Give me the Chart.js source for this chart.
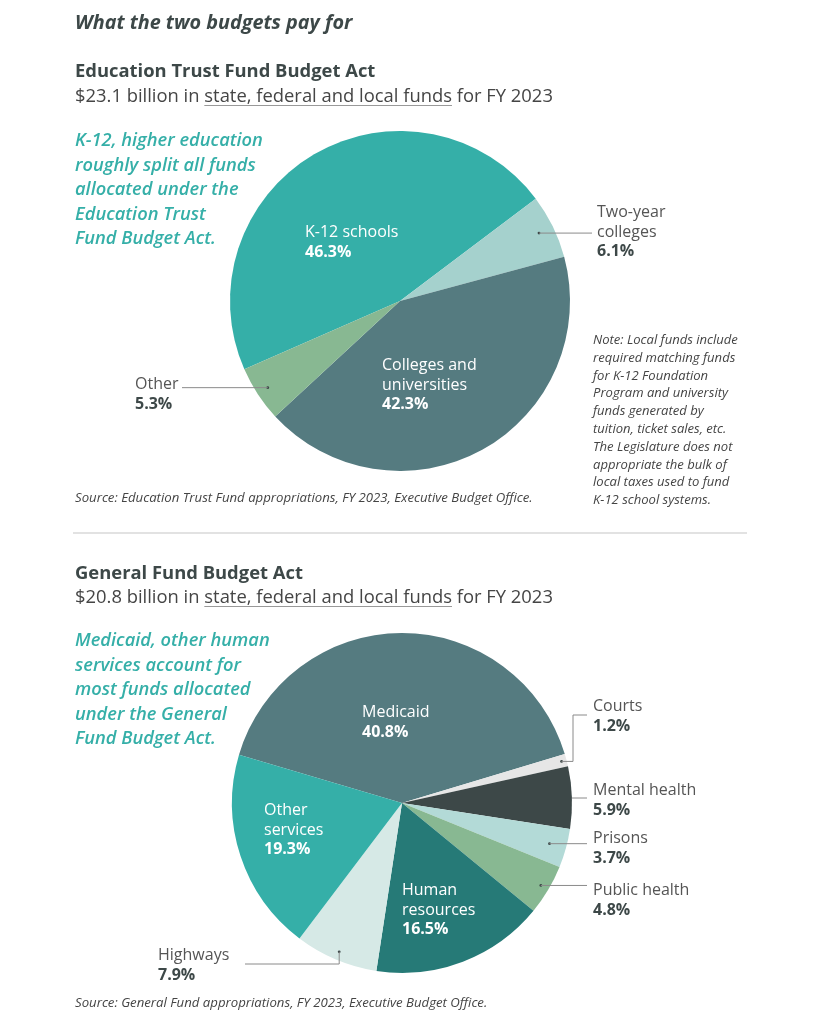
<!DOCTYPE html>
<html>
<head>
<meta charset="utf-8">
<script src="https://cdn.jsdelivr.net/npm/chart.js@4.4.1/dist/chart.umd.min.js"></script>
<style>
  html, body { margin: 0; padding: 0; background: #fff; }
  #page { position: relative; width: 813px; height: 1024px; overflow: hidden; font-family: "Open Sans", "Noto Sans", sans-serif; }
  canvas.pie { position: absolute; left: 0; top: 0; }
  .t { position: absolute; white-space: nowrap; }
  .title { left: 75px; top: 10px; font-size: 19.8px; line-height: 24px; font-weight: 700; font-style: italic; color: #3d4848; }
  .sect { left: 75px; font-size: 18.4px; line-height: 24px; font-weight: 700; color: #3d4848; }
  .sub { left: 75px; font-size: 18.4px; line-height: 24px; color: #454545; }
  .sub u { text-decoration-color: #999; text-underline-offset: 3px; }
  .ann { left: 75px; font-size: 18.3px; line-height: 24.5px; font-weight: 600; font-style: italic; color: #35afa8; }
  .note { left: 593px; top: 331px; font-size: 13.05px; line-height: 17.8px; font-style: italic; color: #444; }
  .src { left: 75px; font-size: 13.2px; line-height: 16px; font-style: italic; color: #444; }
  .lab { font-size: 16px; line-height: 19.5px; color: #555; }
  .lab b { color: #3d4848; }
  .lab.in { color: #fff; }
  .lab.in b { color: #fff; }
  .sep { position: absolute; left: 73px; top: 532px; width: 674px; height: 2px; background: #e2e2e2; }
</style>
</head>
<body>
<div id="page">
  <canvas id="c1" class="pie" width="813" height="1024"></canvas>
  <canvas id="c2" class="pie" width="813" height="1024"></canvas>

  <div class="t title">What the two budgets pay for</div>

  <div class="t sect" style="top:58px">Education Trust Fund Budget Act</div>
  <div class="t sub" style="top:83px">$23.1 billion in <u>state, federal and local funds</u> for FY 2023</div>
  <div class="t ann" style="top:127px">K-12, higher education<br>roughly split all funds<br>allocated under the<br>Education Trust<br>Fund Budget Act.</div>
  <div class="t note">Note: Local funds include<br>required matching funds<br>for K-12 Foundation<br>Program and university<br>funds generated by<br>tuition, ticket sales, etc.<br>The Legislature does not<br>appropriate the bulk of<br>local taxes used to fund<br>K-12 school systems.</div>
  <div class="t src" style="top:489px">Source: Education Trust Fund appropriations, FY 2023, Executive Budget Office.</div>

  <div class="sep"></div>

  <div class="t sect" style="top:560px">General Fund Budget Act</div>
  <div class="t sub" style="top:584px">$20.8 billion in <u>state, federal and local funds</u> for FY 2023</div>
  <div class="t ann" style="top:627px">Medicaid, other human<br>services account for<br>most funds allocated<br>under the General<br>Fund Budget Act.</div>
  <div class="t src" style="top:994px">Source: General Fund appropriations, FY 2023, Executive Budget Office.</div>

  <div id="labels"></div>
</div>

<script>
// ---- Data ----
const eduCategories = ['K-12 schools', 'Two-year colleges', 'Colleges and universities', 'Other'];
const eduValues = [46.3, 6.1, 42.3, 5.3];

const genCategories = ['Medicaid', 'Courts', 'Mental health', 'Prisons', 'Public health', 'Human resources', 'Highways', 'Other services'];
const genValues = [40.8, 1.2, 5.9, 3.7, 4.8, 16.5, 7.9, 19.3];

// ---- Styles ----
const eduColors = ['#35afa8', '#a5d1cd', '#557b80', '#88b892'];
const genColors = ['#557b80', '#e6e6e6', '#3d4848', '#b3dad7', '#88b892', '#267a77', '#d6e9e6', '#35afa8'];

// label layout: line breaks, position of text block, leader line
const eduLabels = [
  { lines: ['K-12 schools'], inside: true, x: 305, y: 222 },
  { lines: ['Two-year', 'colleges'], x: 597, y: 202, dot: 0.91, path: [{ x: 592 }] },
  { lines: ['Colleges and', 'universities'], inside: true, x: 382, y: 355 },
  { lines: ['Other'], x: 135, y: 374, dot: 0.93, path: [{ x: 182 }] }
];
const genLabels = [
  { lines: ['Medicaid'], inside: true, x: 362, y: 702 },
  { lines: ['Courts'], x: 593, y: 696, dot: 0.97, path: [{ x: 573 }, { y: 715 }, { x: 587 }] },
  { lines: ['Mental health'], x: 593, y: 780, dot: 1.0, fixY: 798, path: [{ x: 587 }] },
  { lines: ['Prisons'], x: 593, y: 828, dot: 0.9, path: [{ x: 587 }] },
  { lines: ['Public health'], x: 593, y: 880, dot: 0.95, path: [{ x: 587 }] },
  { lines: ['Human', 'resources'], inside: true, x: 402, y: 880 },
  { lines: ['Highways'], x: 158, y: 945, dot: 0.95, path: [{ y: 964 }, { x: 245 }] },
  { lines: ['Other', 'services'], inside: true, x: 264, y: 800 }
];

function addLabels(values, layout) {
  const host = document.getElementById('labels');
  values.forEach((v, i) => {
    const L = layout[i];
    const d = document.createElement('div');
    d.className = 't lab' + (L.inside ? ' in' : '');
    d.style.left = L.x + 'px';
    d.style.top = L.y + 'px';
    d.innerHTML = L.lines.join('<br>') + '<br><b>' + v.toFixed(1) + '%</b>';
    host.appendChild(d);
  });
}
addLabels(eduValues, eduLabels);
addLabels(genValues, genLabels);

const leaderPlugin = {
  id: 'leaders',
  afterDatasetsDraw(chart, args, opts) {
    const ctx = chart.ctx;
    const meta = chart.getDatasetMeta(0);
    ctx.save();
    meta.data.forEach((arc, i) => {
      const L = opts.layout[i];
      if (!L || L.inside) return;
      const p = arc.getProps(['x', 'y', 'startAngle', 'endAngle', 'outerRadius'], true);
      const mid = (p.startAngle + p.endAngle) / 2;
      let x = p.x + Math.cos(mid) * p.outerRadius * L.dot;
      let y = p.y + Math.sin(mid) * p.outerRadius * L.dot;
      if (L.fixY !== undefined) {
        // leader leaves slice edge horizontally at given height
        y = L.fixY;
        x = p.x + Math.sqrt(Math.max(0, p.outerRadius * p.outerRadius - (y - p.y) * (y - p.y)));
      } else {
        ctx.fillStyle = '#3d4848';
        ctx.beginPath();
        ctx.arc(x, y, 1.4, 0, Math.PI * 2);
        ctx.fill();
      }
      ctx.strokeStyle = '#8a8a8a';
      ctx.lineWidth = 1;
      ctx.beginPath();
      ctx.moveTo(x, y);
      L.path.forEach(s => {
        if (s.x !== undefined) x = s.x;
        if (s.y !== undefined) y = s.y;
        ctx.lineTo(x, y);
      });
      ctx.stroke();
    });
    ctx.restore();
  }
};

function makePie(id, labels, values, colors, layout, rotation, pad) {
  return new Chart(document.getElementById(id), {
    type: 'pie',
    data: {
      labels: labels,
      datasets: [{ data: values, backgroundColor: colors, borderWidth: 0, hoverOffset: 0 }]
    },
    options: {
      responsive: false,
      animation: false,
      rotation: rotation,
      layout: { padding: pad },
      events: [],
      plugins: {
        legend: { display: false },
        tooltip: { enabled: false },
        leaders: { layout: layout }
      }
    },
    plugins: [leaderPlugin]
  });
}

makePie('c1', eduCategories, eduValues, eduColors, eduLabels, -113.7,
  { left: 230, right: 243, top: 131, bottom: 553 });
makePie('c2', genCategories, genValues, genColors, genLabels, -73.5,
  { left: 232, right: 241, top: 633, bottom: 51 });
</script>
</body>
</html>
